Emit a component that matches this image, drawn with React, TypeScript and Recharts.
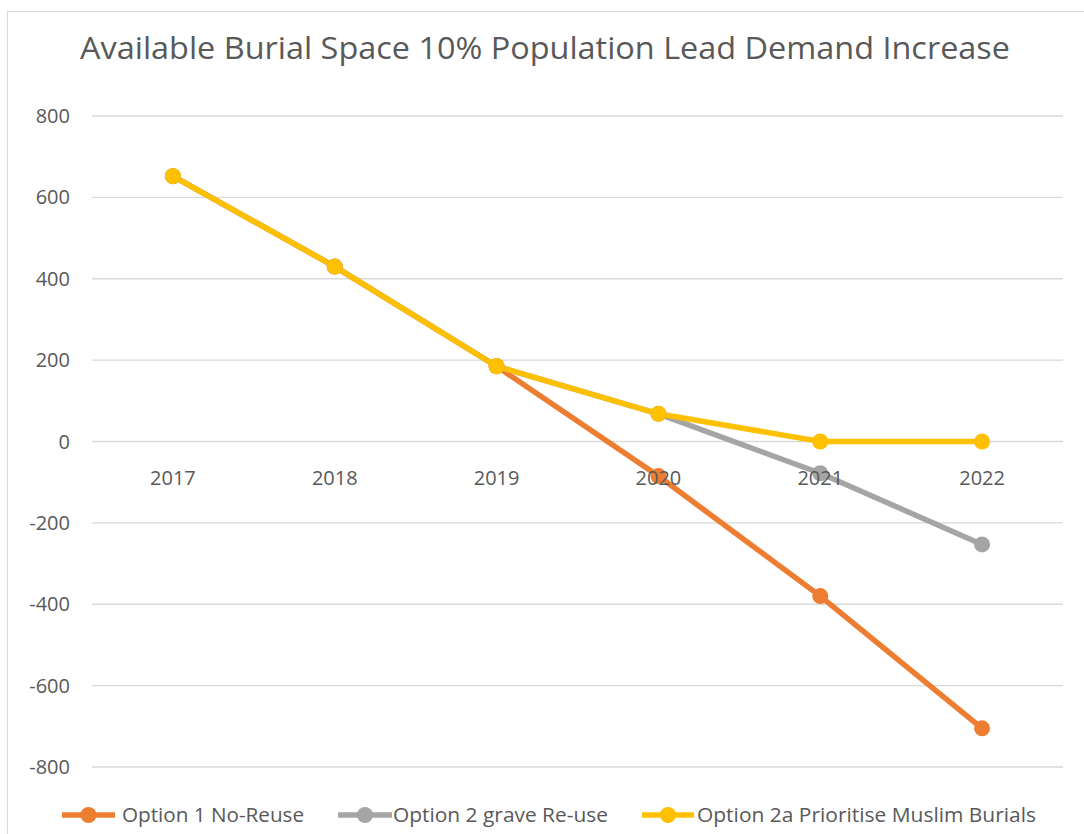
import React from 'react';
import { LineChart, Line, XAxis, YAxis, CartesianGrid, Legend } from 'recharts';

const years = ['2017', '2018', '2019', '2020', '2021', '2022'];
const option1 = [652, 430, 185, -85, -380, -705];
const option2 = [652, 430, 185, 68, -78, -253];
const option2a = [652, 430, 185, 68, 0, 0];
const yTicks = [-800, -600, -400, -200, 0, 200, 400, 600, 800];

const seriesNames = ['Option 1 No-Reuse', 'Option 2 grave Re-use', 'Option 2a Prioritise Muslim Burials'];
const seriesColors = ['#ED7D31', '#A5A5A5', '#FFC000'];

const data = years.map((y, i) => ({ year: y, o1: option1[i], o2: option2[i], o2a: option2a[i] }));

const W = 1084;
const H = 834;
const TOP = 116;
const X_AXIS_H = 67;
const PLOT_H = H - TOP - X_AXIS_H;
const Y_MIN = -800;
const Y_MAX = 800;
const ZERO_Y = TOP + (PLOT_H * (Y_MAX - 0)) / (Y_MAX - Y_MIN);
const FONT = '"Open Sans", "DejaVu Sans", sans-serif';
const TEXT = '#595959';
const LINE_W = 5.5;
const DOT_R = 8;

const XTick = (props: any) => {
  const { x, payload } = props;
  return (
    <text x={x} y={ZERO_Y + 43} textAnchor="middle" fill={TEXT} fontSize={20} fontFamily={FONT}>
      {payload.value}
    </text>
  );
};

const legendLayout = [
  { x1: 62, x2: 115, tx: 122, tl: 182 },
  { x1: 338, x2: 392, tx: 393, tl: 215 },
  { x1: 642, x2: 694, tx: 697, tl: 339 },
];

const LegendContent = () => (
  <svg width={W} height={30} style={{ display: 'block' }}>
    {legendLayout.map((l, i) => (
      <g key={i}>
        <line x1={l.x1} x2={l.x2} y1={15} y2={15} stroke={seriesColors[i]} strokeWidth={LINE_W} />
        <circle cx={(l.x1 + l.x2) / 2} cy={15} r={DOT_R} fill={seriesColors[i]} />
        <text
          x={l.tx}
          y={22}
          fill={TEXT}
          fontSize={20}
          fontFamily={FONT}
          textLength={l.tl}
          lengthAdjust="spacingAndGlyphs"
        >
          {seriesNames[i]}
        </text>
      </g>
    ))}
  </svg>
);

export default function App() {
  return (
    <div style={{ position: 'absolute', left: 0, top: 0, width: W, height: H, overflow: 'hidden', background: '#fff' }}>
      <div
        style={{
          position: 'absolute',
          left: 7,
          top: 11,
          width: 1200,
          height: 1000,
          border: '1px solid #D9D9D9',
          boxSizing: 'border-box',
        }}
      />
      <svg width={W} height={100} style={{ position: 'absolute', left: 0, top: 0 }}>
        <text
          x={545}
          y={59}
          textAnchor="middle"
          fill={TEXT}
          fontSize={31}
          fontFamily={FONT}
          textLength={930}
          lengthAdjust="spacingAndGlyphs"
        >
          Available Burial Space 10% Population Lead Demand Increase
        </text>
      </svg>
      <div style={{ position: 'absolute', left: 0, top: 0 }}>
        <LineChart width={W} height={H} data={data} margin={{ top: TOP, right: 21, bottom: 0, left: 0 }}>
          <CartesianGrid vertical={false} stroke="#D9D9D9" strokeWidth={1.3} />
          <XAxis
            dataKey="year"
            scale="band"
            axisLine={false}
            tickLine={false}
            height={X_AXIS_H}
            tick={<XTick />}
            interval={0}
          />
          <YAxis
            domain={[Y_MIN, Y_MAX]}
            ticks={yTicks}
            width={92}
            axisLine={false}
            tickLine={false}
            tickSize={0}
            tickMargin={22}
            tick={{ fill: TEXT, fontSize: 20, fontFamily: FONT }}
          />
          <Legend
            layout="horizontal"
            verticalAlign="middle"
            align="center"
            wrapperStyle={{ left: 0, top: 800, width: W }}
            content={<LegendContent />}
          />
          <Line
            dataKey="o1"
            name={seriesNames[0]}
            stroke={seriesColors[0]}
            strokeWidth={LINE_W}
            dot={{ r: DOT_R, fill: seriesColors[0], stroke: seriesColors[0], strokeWidth: 0 }}
            activeDot={false}
            isAnimationActive={false}
          />
          <Line
            dataKey="o2"
            name={seriesNames[1]}
            stroke={seriesColors[1]}
            strokeWidth={LINE_W}
            dot={{ r: DOT_R, fill: seriesColors[1], stroke: seriesColors[1], strokeWidth: 0 }}
            activeDot={false}
            isAnimationActive={false}
          />
          <Line
            dataKey="o2a"
            name={seriesNames[2]}
            stroke={seriesColors[2]}
            strokeWidth={LINE_W}
            dot={{ r: DOT_R, fill: seriesColors[2], stroke: seriesColors[2], strokeWidth: 0 }}
            activeDot={false}
            isAnimationActive={false}
          />
        </LineChart>
      </div>
    </div>
  );
}
